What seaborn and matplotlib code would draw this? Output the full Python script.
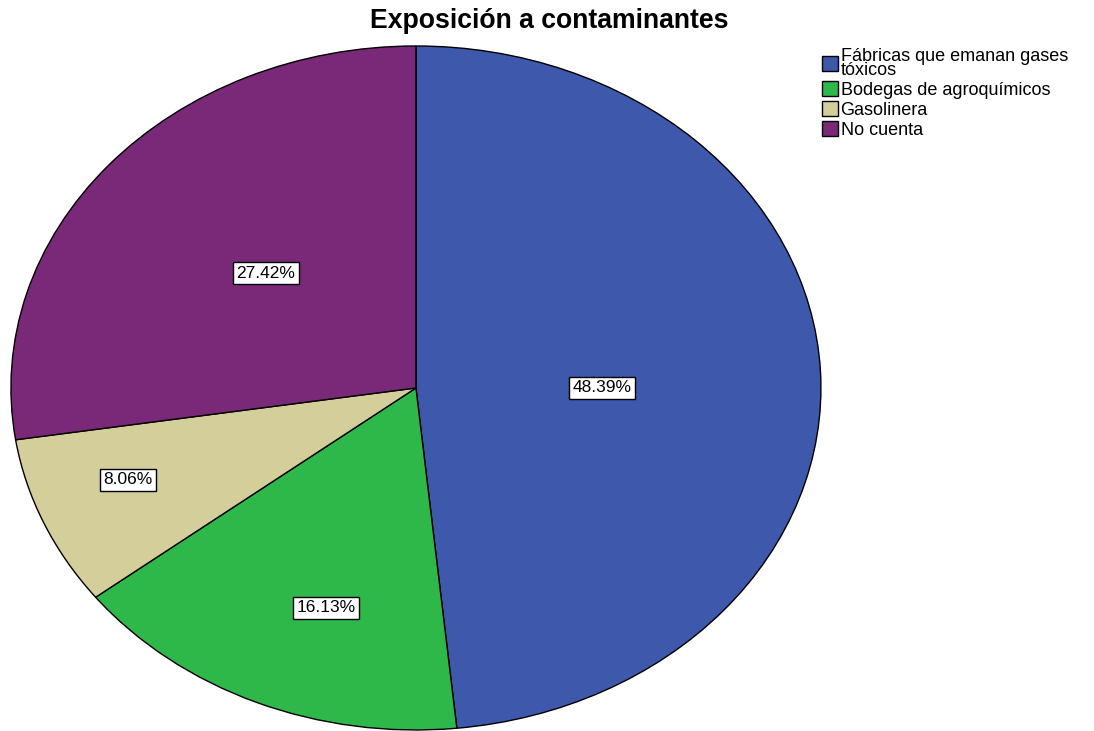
import matplotlib
matplotlib.use("Agg")
import matplotlib.pyplot as plt
import seaborn as sns
import numpy as np

categories = ["Fábricas que emanan gases\ntóxicos", "Bodegas de agroquímicos", "Gasolinera", "No cuenta"]
values = [48.39, 16.13, 8.06, 27.42]
title = "Exposición a contaminantes"

sns.set_theme(style="white")
plt.rcParams['font.family'] = ['Liberation Sans', 'DejaVu Sans']
plt.rcParams['text.color'] = 'black'

colors = ["#3e58ac", "#2eb84a", "#d4cf9a", "#7a2878"]
label_dist = [0.46, 0.68, 0.76, 0.50]
label_angle_shift = [-2.9, 4.2, -2.5, -1.6]

fig = plt.figure(figsize=(10.94, 7.31), dpi=100)
ax = fig.add_axes([0.0100, 0.0014, 0.7404, 0.9357])
wedges, texts, autotexts = ax.pie(
    values, colors=colors, startangle=90, counterclock=False,
    autopct=lambda p: f"{p:.2f}%", pctdistance=0.5,
    wedgeprops=dict(edgecolor="black", linewidth=1.0),
    textprops=dict(fontsize=12.5, color="black"))
ax.set_aspect("auto")
ax.set_xlim(-1, 1)
ax.set_ylim(-1, 1)
ax.axis("off")

for w, t, d, s in zip(wedges, autotexts, label_dist, label_angle_shift):
    ang = np.deg2rad((w.theta1 + w.theta2) / 2 + s)
    t.set_position((d * np.cos(ang), d * np.sin(ang)))
    t.set_bbox(dict(facecolor="white", edgecolor="black", linewidth=1.0, boxstyle="square,pad=0.2"))

fig.text(0.502, 0.971, title, ha="center", va="center", fontsize=19.2, fontweight="bold", color="black")

leg = fig.legend(wedges, categories, loc="upper left", bbox_to_anchor=(0.751, 0.934),
                 frameon=False, fontsize=13, handlelength=0.9, handleheight=0.9,
                 handletextpad=0.15, labelspacing=0.12, borderaxespad=0, borderpad=0)
for t in leg.get_texts():
    t.set_linespacing(0.75)
    t.set_color("black")

fig.savefig("out.png", dpi=100)
